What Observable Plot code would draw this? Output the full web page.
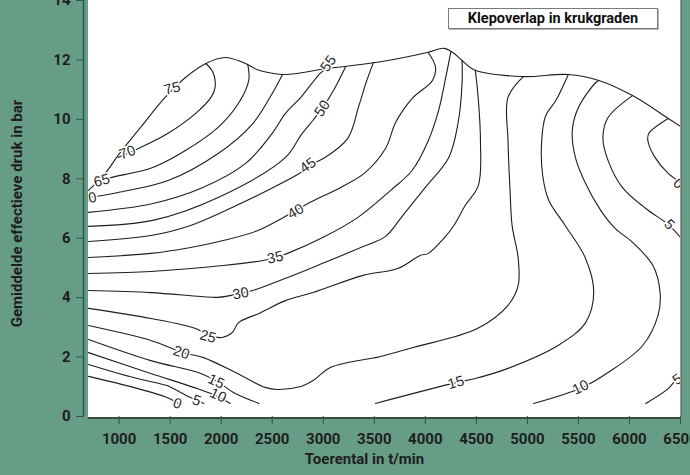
<!DOCTYPE html>
<html><head><meta charset="utf-8">
<script src="https://cdn.jsdelivr.net/npm/d3@7"></script>
<script src="https://cdn.jsdelivr.net/npm/@observablehq/plot@0.6"></script>
<style>
html,body{margin:0;padding:0;background:#679d86;}
#wrap{position:relative;width:690px;height:475px;overflow:hidden;}
#legend{position:absolute;left:448px;top:8px;width:208px;height:19px;border:1px solid #7a7a7a;background:#fff;font:700 14.5px Roboto,sans-serif;text-align:center;line-height:19px;color:#111;box-shadow:1px 1px 0 #b5b5b5;}
</style></head><body><div id="wrap"></div>
<script>
const xTicks = [1000,1500,2000,2500,3000,3500,4000,4500,5000,5500,6000,6500];
const yTicks = [0,2,4,6,8,10,12,14];
const xTitle = "Toerental in t/min";
const yTitle = "Gemiddelde effectieve druk in bar";
const legendTitle = "Klepoverlap in krukgraden";

// full-load boundary (rpm, bar)
const fullLoad = [[700,7.61],[870,8.21],[990,8.79],[1210,9.73],[1450,10.74],[1650,11.41],[1850,11.88],[2040,12.08],[2210,11.92],[2370,11.65],[2500,11.55],[2630,11.51],[3040,11.71],[3530,11.92],[4020,12.25],[4180,12.39],[4270,12.25],[4360,11.98],[4490,11.65],[4950,11.44],[5400,11.51],[5700,11.31],[6030,10.80],[6380,10.03],[6500,9.76]];
// contour lines (rpm, bar)
const c70 = [[990,8.72],[1190,9.02],[1480,9.53],[1750,10.20],[1900,10.74],[1940,11.07],[1920,11.58],[1850,11.88]];
const c65 = [[820,7.94],[920,8.04],[1330,8.38],[1650,8.95],[1970,9.73],[2170,10.54],[2270,11.31],[2260,11.85]];
const c60 = [[700,7.37],[990,7.54],[1480,7.94],[1970,8.85],[2310,9.86],[2500,10.87],[2600,11.50]];
const c55 = [[700,6.87],[1330,7.17],[1820,7.71],[2240,8.52],[2500,9.53],[2630,10.20],[2780,10.74],[2970,11.55],[3020,11.68]];
const c50 = [[700,6.40],[1330,6.60],[1970,7.37],[2630,8.72],[2780,9.46],[2900,9.97],[2990,10.37],[3100,10.97],[3220,11.78]];
const c45 = [[700,5.89],[1310,6.09],[1700,6.43],[2190,7.17],[2510,7.71],[2780,8.21],[2860,8.45],[3000,8.68],[3240,9.36],[3350,10.47],[3420,11.24],[3490,11.90]];
const c40 = [[700,5.35],[1310,5.49],[1700,5.69],[2020,5.92],[2360,6.26],[2610,6.70],[2730,6.93],[2850,7.17],[3170,7.71],[3410,8.21],[3610,9.02],[3710,9.90],[3870,10.70],[4070,11.31],[4100,11.75],[4030,12.24]];
const c35 = [[700,4.81],[1310,4.88],[1700,4.98],[2020,5.08],[2410,5.25],[2530,5.35],[2650,5.49],[3000,6.03],[3340,6.70],[3660,7.61],[3870,8.28],[4030,9.29],[4130,10.30],[4200,11.41],[4250,12.28]];
const c30 = [[700,4.24],[1310,4.17],[1800,4.04],[1970,4.01],[2190,4.14],[2310,4.24],[2630,4.65],[2970,5.12],[3390,5.72],[3610,6.06],[3780,6.77],[4000,7.71],[4230,8.72],[4320,9.86],[4360,11.21],[4360,11.98]];
const c25 = [[700,3.64],[1310,3.30],[1750,2.96],[1880,2.73],[2010,2.66],[2110,2.83],[2170,3.16],[2370,3.47],[2630,3.90],[2900,4.17],[3390,4.75],[3730,4.98],[3950,5.42],[4030,5.49],[4180,5.99],[4280,6.43],[4390,7.10],[4520,7.78],[4540,9.29],[4520,10.64],[4490,11.65]];
const c20 = [[700,3.06],[1310,2.56],[1520,2.29],[1620,2.15],[1820,1.99],[2140,1.48],[2430,0.98],[2550,0.91],[2780,1.01],[2900,1.21],[3070,1.65],[3460,1.95],[3530,1.99],[3880,2.32],[4510,2.96],[4810,3.74],[4910,4.41],[4910,5.32],[4850,6.43],[4830,7.61],[4810,9.29],[4810,10.74],[4960,11.44]];
const c15a = [[700,2.59],[1310,1.88],[1800,1.45],[1960,1.18],[2120,0.81],[2370,0.44]];
const c15b = [[3510,0.44],[4300,1.14],[4490,1.28],[4810,1.62],[5300,2.39],[5570,3.16],[5650,4.17],[5570,5.32],[5370,6.43],[5210,7.27],[5150,8.11],[5140,9.29],[5180,10.13],[5280,10.64],[5400,11.50]];
const c10a = [[700,2.15],[1310,1.45],[1730,0.98],[1920,0.74],[2090,0.44]];
const c10b = [[5060,0.44],[5540,0.98],[5790,1.48],[6130,2.39],[6280,3.40],[6300,4.17],[6230,5.08],[6030,5.86],[5860,6.33],[5720,6.93],[5570,7.84],[5470,8.72],[5440,9.63],[5500,10.40],[5670,11.24],[5700,11.31]];
const c5a = [[700,1.75],[1140,1.31],[1470,1.04],[1530,0.94],[1700,0.64],[1830,0.44]];
const c5b = [[6030,10.80],[5790,10.06],[5740,9.39],[5790,8.62],[5930,7.71],[6160,7.00],[6380,6.46],[6500,6.03]];
const c5c = [[6160,0.44],[6380,0.94],[6450,1.21],[6500,1.35]];
const c0a = [[700,1.35],[1140,0.98],[1470,0.64],[1580,0.44]];
const c0b = [[6380,10.03],[6190,9.53],[6180,9.29],[6250,8.72],[6380,8.18],[6500,7.88]];

// contour labels
const labelText  = ["75","70","65","60","55","50","45","40","35","30","25","20","15","10","5","0","15","10","5","5","0"];
const labelX     = [1520,1080,830,700,3050,2990,2850,2730,2530,2190,1870,1610,1950,1970,1760,1570,4300,5520,6470,6390,6480];
const labelY     = [11.04,8.89,7.94,7.34,11.88,10.37,8.45,6.90,5.35,4.14,2.69,2.15,1.18,0.71,0.54,0.44,1.14,0.98,1.25,6.46,7.84];
const labelAngle = [-15,-20,-15,-10,-55,-55,-35,-30,-12,-10,15,18,25,25,20,20,-15,-25,-35,45,45];

const curves = {fullLoad,c70,c65,c60,c55,c50,c45,c40,c35,c30,c25,c20,c15a,c15b,c10a,c10b,c5a,c5b,c5c,c0a,c0b};
const rows = [];
for (const [id, pts] of Object.entries(curves)) for (const [x, y] of pts) rows.push({id, x, y});
const labels = labelText.map((t, i) => ({t, x: labelX[i], y: labelY[i], a: labelAngle[i]}));

const ink = "#1e1e1e", axisGreen = "#2c5744";
const plot = Plot.plot({
  width: 690, height: 475,
  marginLeft: 88, marginRight: 10, marginTop: 0, marginBottom: 59,
  style: {background: "transparent", fontFamily: "Roboto, sans-serif", fontSize: "15px", fontWeight: 700},
  x: {domain: [700, 6500]},
  y: {domain: [0, 14]},
  marks: [
    Plot.frame({fill: "white", stroke: "white"}),
    Plot.ruleY([0], {stroke: "#3c4a43", strokeWidth: 2, dy: 1.5}),
    Plot.ruleX([6500], {stroke: "#5a5a5a", strokeWidth: 1.2, dx: 0.5}),
    Plot.ruleX([700], {stroke: axisGreen, strokeWidth: 1.5, dx: -5}),
    Plot.line(rows, {x: "x", y: "y", z: "id", stroke: ink, strokeWidth: 1.1, curve: "catmull-rom", clip: true}),
    Plot.text(labels, {x: "x", y: "y", text: "t", rotate: "a", fontSize: 14.5, fontWeight: 400, fontFamily: "Liberation Sans, Arial, sans-serif", fill: "#2a2a2a", stroke: "white", strokeWidth: 3, clip: true}),
    Plot.axisX(xTicks, {tickSize: 8, tickPadding: 9, tickFormat: d => String(d), stroke: axisGreen, fill: ink, label: null, fontSize: 15, fontWeight: 700}),
    Plot.axisY(yTicks, {tickSize: 8, tickPadding: 6, dx: -4, tickFormat: d => String(d), stroke: axisGreen, fill: ink, label: null, fontSize: 15, fontWeight: 700}),
    Plot.text([xTitle], {frameAnchor: "bottom", dy: 47, dx: -20, textAnchor: "middle", fill: ink, fontSize: 15, fontWeight: 700}),
    Plot.text([yTitle], {frameAnchor: "left", dx: -71, dy: 5, rotate: -90, textAnchor: "middle", fill: ink, fontSize: 15, fontWeight: 700})
  ]
});
const wrap = document.getElementById("wrap");
wrap.appendChild(plot);
const lg = document.createElement("div");
lg.id = "legend";
lg.textContent = legendTitle;
wrap.appendChild(lg);
</script></body></html>
